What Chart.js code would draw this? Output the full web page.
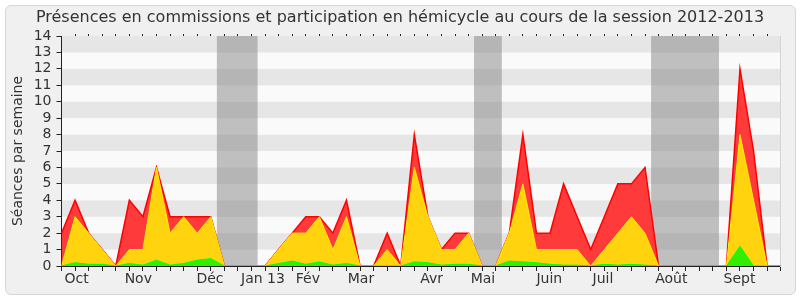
<!DOCTYPE html>
<html lang="fr">
<head>
<meta charset="UTF-8">
<title>Présences</title>
<script src="https://cdn.jsdelivr.net/npm/chart.js@4.4.3/dist/chart.umd.min.js"></script>
<style>
    body { margin: 0; background: #fff; }
    #frame { position: absolute; left: 5px; top: 5px; width: 789px; height: 288px;
             border: 1px solid #d6d6d6; border-radius: 6px; background: #f0f0f0; }
    #mychart { position: absolute; left: 0; top: 0; }
</style>
</head>
<body>
<div id="frame"></div>
<canvas id="mychart" width="800" height="300"></canvas>
<script>
    // one value per week, first week = end of september 2012
    const seancesTotal = [2, 4, 2, 1, 0, 4, 3, 6, 3, 3, 3, 3, 0, 0, 0, 0, 1, 2, 3, 3, 2, 4, 0, 0, 2, 0, 8,
        3, 1, 2, 2, 0, 0, 2, 8, 2, 2, 5, 3, 1, 3, 5, 5, 6, 0, 0, 0, 0, 0, 0, 12, 7, 0, 0];
    const seancesHemicycle = [0, 3, 2, 1, 0, 1, 1, 6, 2, 3, 2, 3, 0, 0, 0, 0, 1, 2, 2, 3, 1, 3, 0, 0, 1, 0, 6,
        3, 1, 1, 2, 0, 0, 2, 5, 1, 1, 1, 1, 0, 1, 2, 3, 2, 0, 0, 0, 0, 0, 0, 8, 4, 0, 0];
    const interventions = [0, 0.2, 0.1, 0.1, 0, 0.15, 0.05, 0.35, 0.05, 0.15, 0.35, 0.45, 0, 0, 0, 0, 0.15, 0.3,
        0.1, 0.25, 0.05, 0.15, 0, 0, 0, 0, 0.25, 0.2, 0.05, 0.1, 0.1, 0, 0, 0.3, 0.25, 0.2, 0.1, 0.05, 0.05, 0,
        0.1, 0.05, 0.1, 0.05, 0, 0, 0, 0, 0, 0, 1.2, 0, 0, 0];

    const monthLabels = ['Oct', 'Nov', 'Déc', 'Jan 13', 'Fév', 'Mar', 'Avr', 'Mai', 'Juin', 'Juil', 'Août', 'Sept'];
    const monthPos = [1.12, 5.66, 10.94, 14.85, 18.16, 22.07, 27.28, 31.06, 35.95, 39.9, 44.94, 49.96];

    // parliamentary holidays (in weeks)
    const vacances = [[11.45, 14.45], [30.4, 32.45], [43.45, 48.45]];

    const nbWeeks = seancesTotal.length;
    const weekTicks = seancesTotal.map((v, i) => i);

    function toPoints(arr) {
        return arr.map((v, i) => ({ x: i, y: v }));
    }

    // striped background + holiday shading, under the datasets
    const backgroundPlugin = {
        id: 'background',
        beforeDraw(chart) {
            const { ctx, chartArea, scales } = chart;
            const y = scales.y, x = scales.x;
            ctx.save();
            for (let v = 0; v < 14; v++) {
                ctx.fillStyle = v % 2 === 0 ? '#fafafa' : '#e6e6e6';
                const top = y.getPixelForValue(v + 1);
                const bottom = y.getPixelForValue(v);
                ctx.fillRect(chartArea.left, top, chartArea.right - chartArea.left, bottom - top);
            }
            ctx.fillStyle = 'rgba(128, 128, 128, 0.48)';
            vacances.forEach(([a, b]) => {
                const left = x.getPixelForValue(a);
                const right = x.getPixelForValue(b);
                ctx.fillRect(left, chartArea.top, right - left, chartArea.bottom - chartArea.top);
            });
            ctx.restore();
        }
    };

    const font = { family: 'DejaVu Sans', size: 14 };

    var config = {
        type: 'line',
        data: {
            datasets: [
                {
                    label: 'Interventions',
                    data: toPoints(interventions),
                    borderColor: '#00ff00',
                    backgroundColor: '#33ee00',
                    borderWidth: 1,
                    fill: 'origin'
                },
                {
                    label: 'Hémicycle',
                    data: toPoints(seancesHemicycle),
                    borderColor: '#ffee00',
                    backgroundColor: '#ffd40e',
                    borderWidth: 1,
                    fill: 'origin'
                },
                {
                    label: 'Commissions',
                    data: toPoints(seancesTotal),
                    borderColor: '#ff0000',
                    backgroundColor: '#ff3a3a',
                    borderWidth: 1.5,
                    fill: 'origin'
                }
            ]
        },
        options: {
            responsive: false,
            animation: false,
            devicePixelRatio: 1,
            elements: { point: { radius: 0 }, line: { tension: 0 } },
            layout: { padding: 0 },
            scales: {
                x: {
                    type: 'linear',
                    position: 'bottom',
                    min: 0,
                    max: nbWeeks - 1,
                    afterBuildTicks(scale) {
                        scale.ticks = weekTicks.map(v => ({ value: v }))
                            .concat(monthPos.map(v => ({ value: v })));
                    },
                    afterFit(scale) { scale.height = 34; },
                    ticks: {
                        autoSkip: false,
                        maxRotation: 0,
                        padding: 0,
                        color: '#333',
                        font: font,
                        callback: (value, index) => index >= nbWeeks ? monthLabels[index - nbWeeks] : ''
                    },
                    grid: {
                        drawOnChartArea: false,
                        tickLength: 5,
                        tickColor: (ctx) => ctx.index < nbWeeks ? '#222' : 'rgba(0,0,0,0)'
                    },
                    border: { color: '#222', width: 1 }
                },
                xTop: {
                    type: 'linear',
                    position: 'top',
                    min: 0,
                    max: nbWeeks - 1,
                    afterBuildTicks(scale) {
                        scale.ticks = weekTicks.slice(1, nbWeeks - 1).map(v => ({ value: v }));
                    },
                    afterFit(scale) { scale.height = 0; },
                    ticks: { autoSkip: false, callback: () => '' },
                    grid: { drawOnChartArea: false, tickLength: 2, tickColor: '#222' },
                    border: { display: false }
                },
                y: {
                    min: 0,
                    max: 14,
                    afterFit(scale) { scale.width = 61.5; },
                    ticks: { stepSize: 1, autoSkip: false, padding: 5, color: '#333', font: font },
                    grid: { drawOnChartArea: false, tickLength: 5, tickColor: '#222' },
                    border: { color: '#222', width: 1 },
                    title: {
                        display: true,
                        text: 'Séances par semaine',
                        color: '#333',
                        font: font,
                        padding: { top: 10, bottom: 0 }
                    }
                },
                yRight: {
                    type: 'linear',
                    position: 'right',
                    min: 0,
                    max: 14,
                    afterFit(scale) { scale.width = 19.3; },
                    ticks: { display: false },
                    grid: { display: false },
                    border: { color: '#d4d4d4' }
                }
            },
            plugins: {
                legend: { display: false },
                tooltip: { enabled: false },
                title: {
                    display: true,
                    text: 'Présences en commissions et participation en hémicycle au cours de la session 2012-2013',
                    color: '#333',
                    font: { family: 'DejaVu Sans', size: 16, weight: 'normal' },
                    padding: { top: 8.4, bottom: 8.4 }
                }
            }
        },
        plugins: [backgroundPlugin]
    };

    var mychart = new Chart(document.getElementById('mychart'), config);
</script>
</body>
</html>
